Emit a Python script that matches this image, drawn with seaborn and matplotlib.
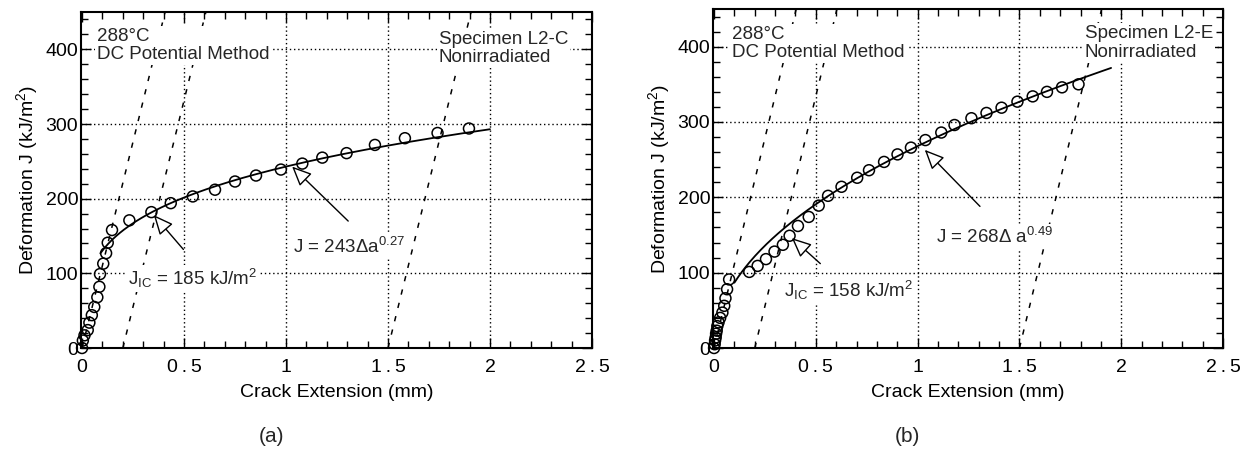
import numpy as np
import matplotlib
matplotlib.use("Agg")
import matplotlib.pyplot as plt
from matplotlib.ticker import MultipleLocator, FixedLocator, FixedFormatter
import seaborn as sns

# ---------------- data ----------------
left_da = [0.000, 0.004, 0.012, 0.028, 0.036, 0.048, 0.060, 0.075, 0.085, 0.088,
           0.104, 0.118, 0.126, 0.147, 0.232, 0.340, 0.435, 0.543, 0.652, 0.750,
           0.853, 0.975, 1.080, 1.178, 1.297, 1.436, 1.583, 1.743, 1.897]
left_J = [0, 10, 17, 24, 34, 44, 55, 68, 82, 99,
          113, 127, 141, 158, 171, 182, 194, 203, 212, 223,
          231, 239, 247, 255, 261, 272, 281, 288, 294]

right_da = [0.000, 0.003, 0.005, 0.008, 0.010, 0.013, 0.016, 0.022, 0.030, 0.041,
            0.050, 0.056, 0.064, 0.074, 0.173, 0.214, 0.255, 0.297, 0.338, 0.371,
            0.412, 0.465, 0.514, 0.560, 0.626, 0.703, 0.761, 0.835, 0.901, 0.967,
            1.038, 1.116, 1.181, 1.264, 1.338, 1.412, 1.490, 1.565, 1.635, 1.709, 1.790]
right_J = [0, 5, 10, 14, 19, 23, 29, 34, 40, 47,
           56, 66, 78, 91, 101, 109, 118, 128, 137, 149,
           162, 174, 189, 202, 214, 226, 236, 247, 257, 266,
           276, 286, 296, 305, 312, 319, 327, 334, 340, 346, 350]

# power-law fits J = C * da^n  (as printed on the chart)
fit_C = [243, 268]
fit_n = [0.27, 0.49]
fit_range = [(0.09, 2.0), (0.10, 1.95)]
# blunting / offset lines  J = M (da - offset)
blunt_slope = [1105, 1115]
blunt_offsets = [0.0, 0.2, 1.5]

jic_values = [185, 158]
specimens = ["L2-C", "L2-E"]
panel_tags = ["(a)", "(b)"]

xticks = [0, 0.5, 1, 1.5, 2, 2.5]
xtick_labels = ["0", "0\u2009.\u20095", "1", "1\u2009.\u20095", "2", "2\u2009.\u20095"]
yticks = [0, 100, 200, 300, 400]
ytick_labels = ["0", "100", "200", "300", "400"]

# ---------------- style ----------------
sns.set_theme(style="ticks")
plt.rcParams["font.family"] = ["Liberation Sans", "DejaVu Sans"]
plt.rcParams["mathtext.fontset"] = "custom"
plt.rcParams["mathtext.rm"] = "Liberation Sans"
plt.rcParams["mathtext.it"] = "Liberation Sans:italic"
plt.rcParams["mathtext.bf"] = "Liberation Sans:bold"

fig = plt.figure(figsize=(12.56, 4.66), dpi=100)
ax1 = fig.add_axes([0.0645, 0.2532, 0.4068, 0.7210])
ax2 = fig.add_axes([0.5677, 0.2532, 0.4061, 0.7275])
axes = [ax1, ax2]

datasets = [(left_da, left_J), (right_da, right_J)]

# annotation placements (data coords)
jic_text_pos = [(0.225, 93), (0.345, 76)]
jic_arrow = [((0.497, 132), (0.352, 178)), ((0.522, 112), (0.382, 146))]
fit_text_pos = [(1.035, 136), (1.09, 148)]
fit_arrow = [((1.305, 170), (1.03, 243)), ((1.306, 188), (1.035, 263))]
cond_text_pos = [(0.075, 405), (0.09, 404)]
spec_text_pos = [(1.75, 401), (1.82, 405)]
fit_labels = [r"J = 243$\Delta$a$^{\mathregular{0.27}}$",
              r"J = 268$\Delta$ a$^{\mathregular{0.49}}$"]

box = dict(facecolor="white", edgecolor="none", pad=1.5)

for i, ax in enumerate(axes):
    da, J = datasets[i]
    # grid
    for gx in [0.5, 1.0, 1.5, 2.0]:
        ax.axvline(gx, color="black", lw=1.0, ls=(0, (1, 2)), zorder=1)
    for gy in [100, 200, 300, 400]:
        ax.axhline(gy, color="black", lw=1.0, ls=(0, (1, 2)), zorder=1)

    # blunting / offset lines
    M = blunt_slope[i]
    for off in blunt_offsets:
        bx = [off, off + 450.0 / M]
        by = [0, 450]
        sns.lineplot(x=bx, y=by, ax=ax, color="black", lw=1.1,
                     linestyle=(0, (3.5, 5.5)), zorder=2, sort=False)

    # fit curve
    lo, hi = fit_range[i]
    fx = np.linspace(lo, hi, 200)
    fy = fit_C[i] * fx ** fit_n[i]
    sns.lineplot(x=fx, y=fy, ax=ax, color="black", lw=1.3, zorder=4, sort=False)

    # data points
    sns.scatterplot(x=da, y=J, ax=ax, marker="o", s=62, facecolor="none",
                    edgecolor="black", linewidth=1.1, zorder=5, clip_on=False)

    # texts
    ax.text(*cond_text_pos[i], "288\u00b0C\nDC Potential Method", fontsize=13.5,
            ha="left", va="center", linespacing=1.1, bbox=box, zorder=2.4)
    ax.text(*spec_text_pos[i], f"Specimen {specimens[i]}\nNonirradiated", fontsize=13.5,
            ha="left", va="center", linespacing=1.1, bbox=box, zorder=2.4)
    ax.text(*jic_text_pos[i],
            r"J$_{\mathregular{IC}}$ = " + f"{jic_values[i]}" + r" kJ/m$^{\mathregular{2}}$",
            fontsize=13.5, ha="left", va="center", bbox=box, zorder=2.4)
    ax.text(*fit_text_pos[i], fit_labels[i], fontsize=13.5, ha="left", va="center",
            bbox=box, zorder=2.4)

    arrowprops = dict(arrowstyle="-|>,head_length=1.0,head_width=0.45",
                      facecolor="white", edgecolor="black", lw=1.0,
                      shrinkA=0, shrinkB=0)
    (tx, ty), (hx, hy) = jic_arrow[i]
    ax.annotate("", xy=(hx, hy), xytext=(tx, ty), arrowprops=arrowprops, zorder=6)
    (tx, ty), (hx, hy) = fit_arrow[i]
    ax.annotate("", xy=(hx, hy), xytext=(tx, ty), arrowprops=arrowprops, zorder=6)

    # axes
    ax.set_xlim(-0.005, 2.5)
    ax.set_ylim(0, 450)
    ax.xaxis.set_major_locator(FixedLocator(xticks))
    ax.xaxis.set_major_formatter(FixedFormatter(xtick_labels))
    ax.yaxis.set_major_locator(FixedLocator(yticks))
    ax.yaxis.set_major_formatter(FixedFormatter(ytick_labels))
    ax.xaxis.set_minor_locator(MultipleLocator(0.1))
    ax.yaxis.set_minor_locator(MultipleLocator(20))
    ax.tick_params(which="both", direction="in", top=True, right=True,
                   color="black", width=1.0, labelsize=14, labelcolor="black")
    ax.tick_params(which="major", length=7)
    ax.tick_params(which="minor", length=5)
    ax.tick_params(axis="x", which="major", pad=8)
    ax.tick_params(axis="y", which="major", pad=2)
    for sp in ax.spines.values():
        sp.set_visible(True)
        sp.set_linewidth(1.5)
        sp.set_color("black")
        sp.set_zorder(7)
    ax.set_xlabel("Crack Extension (mm)", fontsize=14, color="black", labelpad=6)
    ax.set_ylabel(r"Deformation J (kJ/m$^{\mathregular{2}}$)", fontsize=14,
                  color="black", labelpad=4)
    ax.set_facecolor("white")

fig.text(272 / 1256, 1 - 437 / 466, panel_tags[0], fontsize=15, ha="center", va="center")
fig.text(907 / 1256, 1 - 437 / 466, panel_tags[1], fontsize=15, ha="center", va="center")

fig.savefig("out.png", dpi=100, facecolor="white")
